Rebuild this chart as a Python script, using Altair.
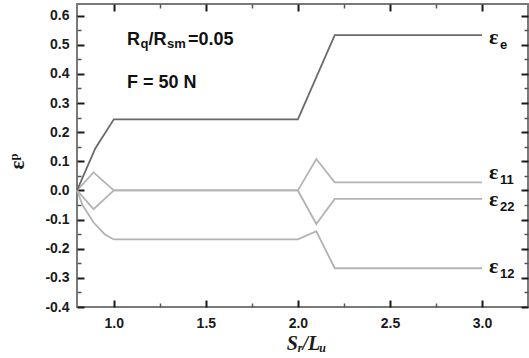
import altair as alt
import pandas as pd

# ---- data ----
x_e = [0.8, 0.9, 1.0, 2.0, 2.2, 3.0]
y_e = [0.0, 0.145, 0.244, 0.244, 0.533, 0.533]
x_11 = [0.8, 0.89, 1.0, 2.0, 2.1, 2.2, 3.0]
y_11 = [0.0, 0.062, 0.0, 0.0, 0.108, 0.028, 0.028]
x_22 = [0.8, 0.89, 1.0, 2.0, 2.1, 2.2, 3.0]
y_22 = [0.0, -0.064, 0.0, 0.0, -0.115, -0.029, -0.029]
x_12 = [0.8, 0.83, 0.89, 0.95, 1.0, 2.0, 2.1, 2.2, 3.0]
y_12 = [0.0, -0.05, -0.11, -0.15, -0.168, -0.168, -0.14, -0.267, -0.267]

series_names = ["12", "22", "11", "e"]
series_colors = ["#b3b3b3", "#b3b3b3", "#b3b3b3", "#6a6a6a"]
label_y = [-0.258, -0.031, 0.062, 0.526]

x_major = [1.0, 1.5, 2.0, 2.5, 3.0]
x_minor = [1.25, 1.75, 2.25, 2.75]
y_major = [-0.4, -0.3, -0.2, -0.1, 0.0, 0.1, 0.2, 0.3, 0.4, 0.5, 0.6]
y_minor = [-0.35, -0.25, -0.15, -0.05, 0.05, 0.15, 0.25, 0.35, 0.45, 0.55]

ann_x = 1.072
ann_y_ratio = 0.50
ann_y_force = 0.353
ratio_pieces = ["R", "q", "/R", "sm", " =0.05"]
force_text = "F = 50 N"

W, H = 451, 303

series_x = {"e": x_e, "11": x_11, "22": x_22, "12": x_12}
series_y = {"e": y_e, "11": y_11, "22": y_22, "12": y_12}
rows = []
for s in series_names:
    for i, (xv, yv) in enumerate(zip(series_x[s], series_y[s])):
        rows.append({"series": s, "i": i, "x": xv, "y": yv})
df = pd.DataFrame(rows)

lab_df = pd.DataFrame({
    "series": series_names,
    "x": [series_x[s][-1] for s in series_names],
    "y": label_y,
    "eps": ["ε"] * len(series_names),
})

xscale = alt.Scale(domain=[0.8, 3.25], nice=False, zero=False)
yscale = alt.Scale(domain=[-0.4, 0.64], nice=False, zero=False)

minus_fix = "replace(format(datum.value, '.1f'), '\u2212', '-')"

x_main = alt.Axis(orient="bottom", values=x_major, labelExpr=minus_fix, ticks=False,
                  domain=False, grid=False, labelFont="Liberation Sans", labelFontSize=14,
                  labelFontWeight="bold", labelColor="#1a1a1a", labelPadding=9,
                  title="Sᵣ/Lᵤ", titleFont="Liberation Serif", titleFontStyle="italic",
                  titleFontWeight="bold", titleFontSize=20, titleColor="#1a1a1a",
                  titleX=229, titleY=42, titleBaseline="alphabetic")
y_main = alt.Axis(orient="left", values=y_major, labelExpr=minus_fix, ticks=False,
                  domain=False, grid=False, labelFont="Liberation Sans", labelFontSize=14,
                  labelFontWeight="bold", labelColor="#1a1a1a", labelPadding=8,
                  title="εᵖ", titleFont="Liberation Serif", titleFontSize=21,
                  titleFontWeight="bold", titleColor="#1a1a1a", titleAngle=270,
                  titleX=-60, titleY=157, titleBaseline="middle", titleAlign="center")


def tick_axis(orient, offset, values, size, width, color):
    return alt.Axis(orient=orient, offset=offset, values=values, tickSize=size,
                    tickWidth=width, tickColor=color, labels=False, domain=False,
                    grid=False, title="")


lines = alt.Chart(df).mark_line(strokeWidth=1.8).encode(
    x=alt.X("x:Q", scale=xscale, axis=x_main),
    y=alt.Y("y:Q", scale=yscale, axis=y_main),
    color=alt.Color("series:N", scale=alt.Scale(domain=series_names, range=series_colors), legend=None),
    order="i:Q",
)


def ghost(xaxis, yaxis):
    return alt.Chart(df).mark_point(opacity=0).encode(
        x=alt.X("x:Q", scale=xscale, axis=xaxis),
        y=alt.Y("y:Q", scale=yscale, axis=yaxis),
    )


major_c, minor_c = "#1a1a1a", "#555555"
g1 = ghost(tick_axis("top", -H, x_major, 7, 2, major_c), tick_axis("right", -W, y_major, 7, 2, major_c))
g2 = ghost(tick_axis("top", -H, x_minor, 4, 1.5, minor_c), tick_axis("right", -W, y_minor, 4, 1.5, minor_c))
g3 = ghost(tick_axis("bottom", -H, x_major, 7, 2, major_c), tick_axis("left", -W, y_major, 7, 2, major_c))
g4 = ghost(tick_axis("bottom", -H, x_minor, 4, 1.5, minor_c), tick_axis("left", -W, y_minor, 4, 1.5, minor_c))

eps = alt.Chart(lab_df).mark_text(align="left", baseline="middle", dx=7, font="Liberation Serif",
                                  fontSize=22, fontWeight="bold", color="#111111").encode(
    x=alt.X("x:Q", scale=xscale, axis=None),
    y=alt.Y("y:Q", scale=yscale, axis=None),
    text="eps:N",
)
subs = alt.Chart(lab_df).mark_text(align="left", baseline="middle", dx=18, dy=8, font="Liberation Sans",
                                   fontSize=13, fontWeight="bold", color="#111111").encode(
    x=alt.X("x:Q", scale=xscale, axis=None),
    y=alt.Y("y:Q", scale=yscale, axis=None),
    text="series:N",
)

piece_dx = [0, 13.5, 21.5, 40, 61]
piece_dy = [0, 3, 0, 3, 0]
piece_size = [18, 13, 18, 13, 18]
ann_layers = []
for t, dx, dy, fs in zip(ratio_pieces, piece_dx, piece_dy, piece_size):
    d = pd.DataFrame({"x": [ann_x], "y": [ann_y_ratio], "t": [t]})
    ann_layers.append(
        alt.Chart(d).mark_text(align="left", baseline="alphabetic", dx=dx, dy=dy,
                               font="Liberation Sans", fontSize=fs, fontWeight="bold",
                               color="#111111").encode(
            x=alt.X("x:Q", scale=xscale, axis=None),
            y=alt.Y("y:Q", scale=yscale, axis=None),
            text="t:N",
        )
    )
fd = pd.DataFrame({"x": [ann_x], "y": [ann_y_force], "t": [force_text]})
ann_layers.append(
    alt.Chart(fd).mark_text(align="left", baseline="alphabetic", font="Liberation Sans",
                            fontSize=18, fontWeight="bold", color="#111111").encode(
        x=alt.X("x:Q", scale=xscale, axis=None),
        y=alt.Y("y:Q", scale=yscale, axis=None),
        text="t:N",
    )
)

chart = alt.layer(lines, g1, g2, g3, g4, eps, subs, *ann_layers).resolve_axis(
    x="independent", y="independent"
).properties(
    width=W, height=H,
    autosize=alt.AutoSizeParams(type="none"),
    padding={"left": 77, "top": 4, "right": 1, "bottom": 51},
    background="white",
).configure_view(stroke="#7a7a7a", strokeWidth=2)

chart.save("out.html", embed_options={"renderer": "svg", "actions": False})
